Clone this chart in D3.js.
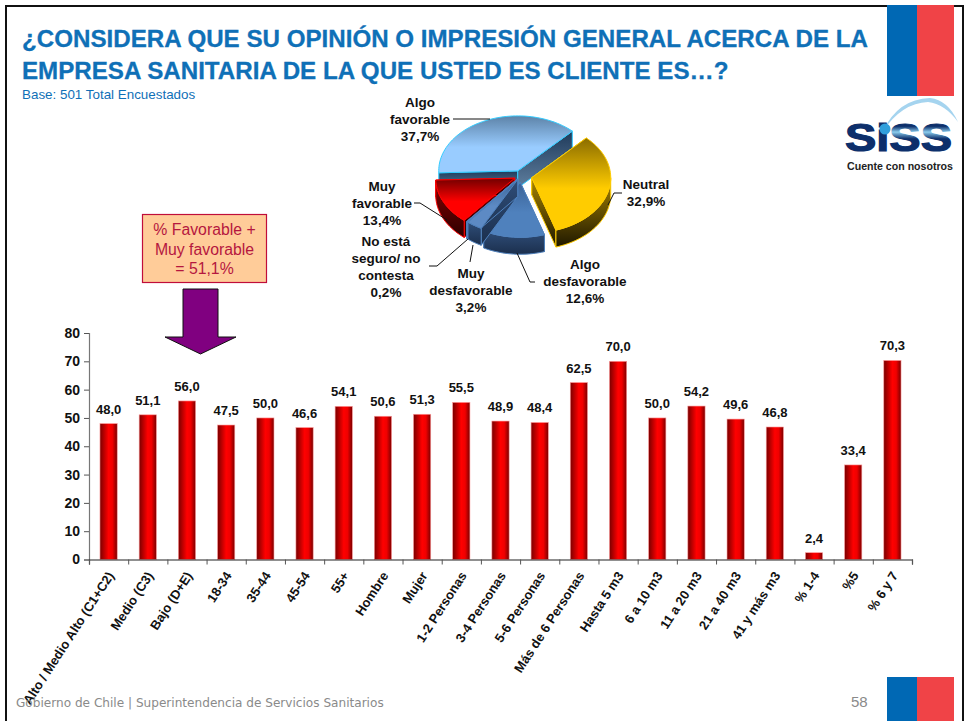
<!DOCTYPE html>
<html>
<head>
<meta charset="utf-8">
<script src="https://cdnjs.cloudflare.com/ajax/libs/d3/7.8.5/d3.min.js"></script>
<style>
  html, body { margin: 0; padding: 0; background: #fff; }
  svg { display: block; }
  text { font-family: "Liberation Sans", Arial, sans-serif; }
</style>
</head>
<body>
<div id="chart"></div>
<script>
// bar chart
var barCategories = ['Alto / Medio Alto (C1+C2)', 'Medio (C3)', 'Bajo (D+E)', '18-34', '35-44', '45-54', '55+',
  'Hombre', 'Mujer', '1-2 Personas', '3-4 Personas', '5-6 Personas', 'Más de 6 Personas', 'Hasta 5 m3',
  '6 a 10 m3', '11 a 20 m3', '21 a 40 m3', '41 y más m3', '% 1-4', '%5', '% 6 y 7'];
var barValues = [48.0, 51.1, 56.0, 47.5, 50.0, 46.6, 54.1, 50.6, 51.3, 55.5, 48.9, 48.4, 62.5, 70.0,
  50.0, 54.2, 49.6, 46.8, 2.4, 33.4, 70.3];
var yTicks = [0, 10, 20, 30, 40, 50, 60, 70, 80];

// pie chart, clockwise from "Algo favorable"
var pieNames = ['Algo favorable', 'Neutral', 'Algo desfavorable', 'Muy desfavorable', 'No está seguro/ no contesta', 'Muy favorable'];
var pieValues = [37.7, 32.9, 12.6, 3.2, 0.2, 13.4];

var titleLines = ['¿CONSIDERA QUE SU OPINIÓN O IMPRESIÓN GENERAL ACERCA DE LA', 'EMPRESA SANITARIA DE LA QUE USTED ES CLIENTE ES…?'];
var calloutLines = ['% Favorable +', 'Muy favorable', '= 51,1%'];

var fmt = function(v) { return d3.format('.1f')(v).replace('.', ','); };

var svg = d3.select('#chart').append('svg').attr('width', 964).attr('height', 721);
var defs = svg.append('defs');

function linearGrad(id, stops, horizontal) {
  var g = defs.append('linearGradient').attr('id', id)
    .attr('x1', 0).attr('y1', 0).attr('x2', horizontal ? 1 : 0).attr('y2', horizontal ? 0 : 1);
  stops.forEach(function(s) {
    g.append('stop').attr('offset', s[0]).attr('stop-color', s[1]);
  });
}

// slide frame and flags
svg.append('path').attr('d', d3.line()([[6, 721], [6, 6], [963, 6], [963, 721]]))
  .attr('fill', 'none').attr('stroke', '#111').attr('stroke-width', 2);

function flag(y, h) {
  svg.append('rect').attr('x', 887).attr('y', y).attr('width', 30).attr('height', h).attr('fill', '#0068b4');
  svg.append('rect').attr('x', 917).attr('y', y).attr('width', 37).attr('height', h).attr('fill', '#f04347');
}
flag(5, 91);
flag(677, 44);

svg.selectAll('.title').data(titleLines).enter().append('text')
  .attr('class', 'title')
  .attr('x', 22)
  .attr('y', function(d, i) { return 47 + i * 32; })
  .attr('fill', '#0f70b7')
  .attr('stroke', '#0f70b7')
  .attr('stroke-width', 0.3)
  .style('font-size', '24.15px')
  .style('font-weight', 'bold')
  .text(function(d) { return d; });

svg.append('text').attr('x', 22).attr('y', 99).attr('fill', '#0f70b7')
  .style('font-size', '13.4px').text('Base: 501 Total Encuestados');

// logo
linearGrad('logoFade', [[0, '#0d2f6b'], [0.22, '#0d2f6b'], [0.36, '#8ccdee'], [0.52, '#0d2f6b'], [1, '#0d2f6b']]);
svg.append('path').attr('d', 'M883,131 Q898,99 930,98 Q948,100 958,122 Q945,104 928,102 Q902,103 883,131Z')
  .attr('fill', '#a5d4ef');
svg.append('text').attr('x', 898.5).attr('y', 151).attr('text-anchor', 'middle')
  .attr('fill', '#0d2f6b')
  .attr('stroke', '#0d2f6b')
  .attr('stroke-width', 1.2)
  .attr('textLength', 107).attr('lengthAdjust', 'spacingAndGlyphs')
  .style('font-size', '38px').style('font-weight', 'bold')
  .call(function(t) {
    t.append('tspan').text('Si');
    t.append('tspan').attr('fill', 'url(#logoFade)').attr('stroke', 'url(#logoFade)').text('SS');
  });
svg.append('circle').attr('cx', 885).attr('cy', 129).attr('r', 5.5).attr('fill', '#2f9fdc');
svg.append('text').attr('x', 900).attr('y', 170).attr('text-anchor', 'middle').attr('fill', '#222')
  .style('font-size', '10.6px').style('font-weight', 'bold').text('Cuente con nosotros');

// callout box and arrow
svg.append('rect').attr('x', 142.5).attr('y', 214.5).attr('width', 124).attr('height', 68)
  .attr('fill', '#ffcc99').attr('stroke', '#c00d3a').attr('stroke-width', 1.2);
svg.selectAll('.callout').data(calloutLines).enter().append('text')
  .attr('class', 'callout')
  .attr('x', 204.5)
  .attr('y', function(d, i) { return 235 + i * 19.5; })
  .attr('text-anchor', 'middle')
  .attr('fill', '#b5173f')
  .style('font-size', '15.8px')
  .text(function(d) { return d; });
svg.append('path').attr('d', d3.line()([[183, 289], [218, 289], [218, 337], [236, 337], [200.5, 354], [165, 337], [183, 337]]) + 'Z')
  .attr('fill', '#800080').attr('stroke', '#111').attr('stroke-width', 1);

// bars
var margin = { left: 89, right: 912, top: 333, bottom: 559.5 };
var x = d3.scaleBand().domain(barCategories).range([margin.left, margin.right]).paddingInner(0.56).paddingOuter(0.28);
var y = d3.scaleLinear().domain([0, 80]).range([margin.bottom, margin.top]);

linearGrad('barGrad', [[0, '#7a0000'], [0.5, '#ff0000'], [0.72, '#f00000'], [1, '#7a0000']], true);

svg.selectAll('.bar').data(barValues).enter().append('rect')
  .attr('class', 'bar')
  .attr('x', function(d, i) { return x(barCategories[i]); })
  .attr('y', function(d) { return y(d); })
  .attr('width', x.bandwidth())
  .attr('height', function(d) { return y(0) - y(d); })
  .attr('fill', 'url(#barGrad)')
  .attr('stroke', '#ff9a9a')
  .attr('stroke-width', 0.6);

svg.selectAll('.barLabel').data(barValues).enter().append('text')
  .attr('class', 'barLabel')
  .attr('x', function(d, i) { return x(barCategories[i]) + x.bandwidth() / 2; })
  .attr('y', function(d) { return y(d) - 10; })
  .attr('text-anchor', 'middle')
  .attr('fill', '#111')
  .style('font-size', '13px')
  .style('font-weight', 'bold')
  .text(fmt);

var yAxis = d3.axisLeft(y).tickValues(yTicks).tickSize(5).tickPadding(4);
var yG = svg.append('g').attr('transform', 'translate(' + margin.left + ',0)').call(yAxis);
yG.select('.domain').attr('stroke', '#777').attr('stroke-width', 1.2);
yG.selectAll('line').attr('stroke', '#555');
yG.selectAll('text').attr('fill', '#111').style('font-size', '14px').style('font-weight', 'bold');

// the ticks sit between the bars, so the axis is drawn with a second scale
var xEdges = d3.scaleLinear().domain([0, barCategories.length]).range([margin.left, margin.right]);
var xAxis = d3.axisBottom(xEdges).tickValues(d3.range(barCategories.length + 1)).tickSize(5).tickFormat('');
var xG = svg.append('g').attr('transform', 'translate(0,' + margin.bottom + ')').call(xAxis);
xG.select('.domain').attr('stroke', '#222').attr('stroke-width', 1.2);
xG.selectAll('line').attr('stroke', '#555');

svg.selectAll('.xLabel').data(barCategories).enter().append('text')
  .attr('class', 'xLabel')
  .attr('transform', function(d) {
    return 'translate(' + (x(d) + x.bandwidth() / 2 + 6) + ',' + (margin.bottom + 16) + ') rotate(-57)';
  })
  .attr('text-anchor', 'end')
  .attr('fill', '#111')
  .style('font-size', '13px')
  .style('font-weight', 'bold')
  .text(function(d) { return d; });

// exploded pseudo-3D pie
var pieC = { x: 521, y: 176, rx: 79, ry: 55, depth: 17 };
var pieExplode = [8, 11, 9, 6, 6, 7];
var pieColors = [
  { top: ['#5d83a8', '#99ccff'], side: ['#1f3a5a', '#5f7f9f'], edge: '#33ccff' },
  { top: ['#8a6c00', '#ffcc00'], side: ['#a88400', '#1f1800'], edge: '#ffcc00' },
  { top: ['#3a6296', '#4f81bd'], side: ['#2f4d78', '#1b2f4d'], edge: '#4f81bd' },
  { top: ['#3a6296', '#5d8ac4'], side: ['#2f4d78', '#1b2f4d'], edge: '#4f81bd' },
  { top: ['#3a6296', '#5d8ac4'], side: ['#2f4d78', '#1b2f4d'], edge: '#4f81bd' },
  { top: ['#700000', '#ff0000'], side: ['#8a0000', '#2c0000'], edge: '#ff0000' }
];
pieColors.forEach(function(c, i) {
  linearGrad('pieTop' + i, [[0, c.top[0]], [0.55, c.top[1]], [1, c.top[1]]]);
  linearGrad('pieSide' + i, [[0, c.side[0]], [1, c.side[1]]]);
});

var startAngle = -92 * Math.PI / 180;
var arcs = d3.pie().sort(null).startAngle(startAngle).endAngle(startAngle + 2 * Math.PI)(pieValues);

function ellipsePoint(c, a) {
  return [c[0] + pieC.rx * Math.sin(a), c[1] - pieC.ry * Math.cos(a)];
}
function arcPoints(c, a0, a1) {
  var n = Math.max(2, Math.ceil((a1 - a0) / 0.04));
  return d3.range(n + 1).map(function(k) { return ellipsePoint(c, a0 + (a1 - a0) * k / n); });
}
var pieLine = d3.line();

// back slices first, the small front ones last
var drawOrder = [0, 1, 2, 5, 4, 3];
drawOrder.forEach(function(i) {
  var d = arcs[i];
  var mid = (d.startAngle + d.endAngle) / 2;
  var c = [pieC.x + pieExplode[i] * Math.sin(mid), pieC.y - pieExplode[i] * Math.cos(mid) * 0.7];
  var g = svg.append('g').attr('class', 'slice');
  var edge = pieColors[i].edge;
  var rim = arcPoints(c, d.startAngle, d.endAngle);
  var down = function(p) { return [p[0], p[1] + pieC.depth]; };

  // the two cut faces
  [rim[0], rim[rim.length - 1]].forEach(function(p) {
    g.append('path').attr('d', pieLine([c, p, down(p), down(c)]) + 'Z')
      .attr('fill', 'url(#pieSide' + i + ')').attr('stroke', edge).attr('stroke-width', 1);
  });

  // outer wall, only where the rim faces the viewer
  var a0 = Math.max(d.startAngle, Math.PI / 2);
  var a1 = Math.min(d.endAngle, 3 * Math.PI / 2);
  if (a1 > a0) {
    var front = arcPoints(c, a0, a1);
    g.append('path').attr('d', pieLine(front.concat(front.slice().reverse().map(down))) + 'Z')
      .attr('fill', 'url(#pieSide' + i + ')').attr('stroke', edge).attr('stroke-width', 1);
  }

  g.append('path').attr('d', pieLine([c].concat(rim)) + 'Z')
    .attr('fill', 'url(#pieTop' + i + ')').attr('stroke', edge).attr('stroke-width', 1);
});

// pie labels and leader lines
var pieLabelLines = [
  ['Algo', 'favorable', fmt(pieValues[0]) + '%'],
  ['Neutral', fmt(pieValues[1]) + '%'],
  ['Algo', 'desfavorable', fmt(pieValues[2]) + '%'],
  ['Muy', 'desfavorable', fmt(pieValues[3]) + '%'],
  ['No está', 'seguro/ no', 'contesta', fmt(pieValues[4]) + '%'],
  ['Muy', 'favorable', fmt(pieValues[5]) + '%']
];
var pieLabelPos = [[420, 107], [646, 189], [585, 269], [471, 278], [386, 246], [382, 191]];
var pieLeaders = [
  [[453, 119], [490, 119]],
  [[622, 193], [614, 193], [608, 205]],
  [[535, 282], [530, 282], [517, 253]],
  [[470, 262], [473, 245]],
  [[429, 266], [437, 266], [468, 239]],
  [[414, 203], [420, 203], [447, 220]]
];
pieLeaders.forEach(function(l) {
  svg.append('path').attr('d', pieLine(l)).attr('fill', 'none').attr('stroke', '#111').attr('stroke-width', 1);
});
pieLabelLines.forEach(function(lines, i) {
  svg.append('text')
    .attr('text-anchor', 'middle')
    .attr('fill', '#111')
    .style('font-size', '13.5px')
    .style('font-weight', 'bold')
    .selectAll('tspan').data(lines).enter().append('tspan')
    .attr('x', pieLabelPos[i][0])
    .attr('y', function(d, k) { return pieLabelPos[i][1] + k * 17; })
    .text(function(d) { return d; });
});

// footer
svg.append('text').attr('x', 16).attr('y', 707).attr('fill', '#8a8a8a')
  .style('font-family', '"DejaVu Sans", sans-serif').style('font-size', '12.1px')
  .text('Gobierno de Chile | Superintendencia de Servicios Sanitarios');
svg.append('text').attr('x', 851).attr('y', 706.5).attr('fill', '#8a8a8a')
  .style('font-size', '15px').text('58');
</script>
</body>
</html>
